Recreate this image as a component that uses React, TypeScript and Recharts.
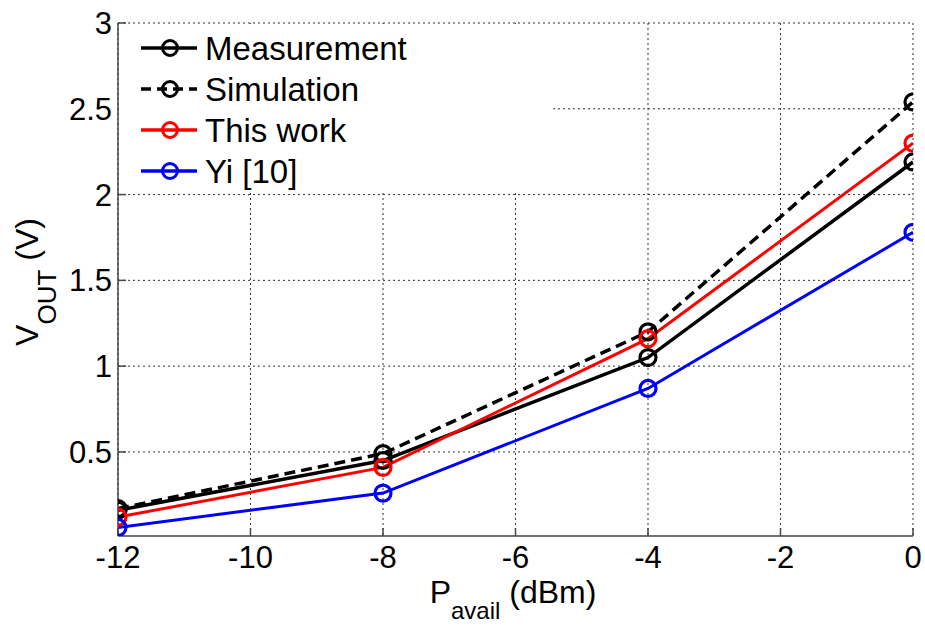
import React from 'react';
import { LineChart, Line, XAxis, YAxis, CartesianGrid } from 'recharts';

const pAvail = [-12, -8, -4, 0];
const measurement = [0.16, 0.45, 1.05, 2.19];
const simulation = [0.17, 0.49, 1.2, 2.54];
const thisWork = [0.12, 0.41, 1.16, 2.3];
const yi10 = [0.06, 0.26, 0.87, 1.78];
const xTicks = [-12, -10, -8, -6, -4, -2, 0];
const yTicks = [0.5, 1, 1.5, 2, 2.5, 3];

const data = pAvail.map((p, i) => ({
  p,
  meas: measurement[i],
  sim: simulation[i],
  work: thisWork[i],
  yi: yi10[i],
}));

const FONT = 'Liberation Sans, Arial, sans-serif';

const legendItems = [
  { name: 'Measurement', color: '#000', dash: undefined as string | undefined },
  { name: 'Simulation', color: '#000', dash: '10 6' },
  { name: 'This work', color: '#ff0000', dash: undefined },
  { name: 'Yi [10]', color: '#0000ff', dash: undefined },
];

const dot = (color: string) => ({ r: 8, stroke: color, strokeWidth: 3.2, fill: 'none' });

const YLabel = () => (
  <text x={38} y={282} transform="rotate(-90 38 282)" textAnchor="middle" fontFamily={FONT} fontSize={32} fill="#000">
    <tspan>V</tspan>
    <tspan fontSize={26} dy={18}>OUT</tspan>
    <tspan dy={-18}> (V)</tspan>
  </text>
);

const XLabel = () => (
  <text x={513} y={603} textAnchor="middle" fontFamily={FONT} fontSize={32} fill="#000">
    <tspan>P</tspan>
    <tspan fontSize={24} dy={16}>avail</tspan>
    <tspan dy={-16}> (dBm)</tspan>
  </text>
);

export default function App() {
  return (
    <div style={{ position: 'absolute', left: 0, top: 0, width: 925, height: 626, background: '#fff' }}>
      <LineChart width={925} height={626} data={data} margin={{ top: 23, right: 12, left: 38, bottom: 30 }}>
        <CartesianGrid
          stroke="#333"
          strokeDasharray="2 3"
          strokeWidth={1}
          verticalValues={xTicks}
          horizontalValues={yTicks}
        />
        <XAxis
          xAxisId={0}
          dataKey="p"
          type="number"
          domain={[-12, 0]}
          ticks={xTicks}
          height={60}
          tickSize={-8}
          tickMargin={18}
          stroke="#444"
          strokeWidth={1.5}
          tick={{ fontSize: 31, fontFamily: FONT, fill: '#000' }}
          allowDataOverflow
          label={<XLabel />}
        />
        <XAxis
          xAxisId={1}
          dataKey="p"
          type="number"
          orientation="top"
          domain={[-12, 0]}
          ticks={xTicks}
          height={0}
          tickSize={-8}
          stroke="#444"
          strokeWidth={1.5}
          tickFormatter={() => ''}
        />
        <YAxis
          yAxisId={0}
          type="number"
          domain={[0.01, 3]}
          ticks={yTicks}
          width={80}
          tickSize={-8}
          tickMargin={14}
          stroke="#444"
          strokeWidth={1.5}
          tick={{ fontSize: 31, fontFamily: FONT, fill: '#000' }}
          allowDataOverflow
          label={<YLabel />}
        />
        <YAxis
          yAxisId={1}
          orientation="right"
          type="number"
          domain={[0.01, 3]}
          ticks={yTicks}
          width={0}
          tickSize={-8}
          stroke="#444"
          strokeWidth={1.5}
          tickFormatter={() => ''}
        />
        <Line xAxisId={0} yAxisId={0} type="linear" dataKey="meas" stroke="#000" strokeWidth={3.5} dot={dot('#000')} isAnimationActive={false} />
        <Line xAxisId={0} yAxisId={0} type="linear" dataKey="sim" stroke="#000" strokeWidth={3.5} strokeDasharray="11 6" dot={{ ...dot('#000'), strokeDasharray: '' }} isAnimationActive={false} />
        <Line xAxisId={0} yAxisId={0} type="linear" dataKey="work" stroke="#ff0000" strokeWidth={3} dot={dot('#ff0000')} isAnimationActive={false} />
        <Line xAxisId={0} yAxisId={0} type="linear" dataKey="yi" stroke="#0000ff" strokeWidth={3} dot={dot('#0000ff')} isAnimationActive={false} />
      </LineChart>
      <div
        style={{
          position: 'absolute',
          left: 119,
          top: 24,
          width: 434,
          height: 166,
          background: '#fff',
        }}
      >
        {legendItems.map((it, i) => (
          <div key={it.name} style={{ position: 'absolute', left: 0, top: 4 + i * 41, height: 41, width: 434 }}>
            <svg width={84} height={41} style={{ position: 'absolute', left: 0, top: 0 }}>
              <line x1={22} y1={20} x2={78} y2={20} stroke={it.color} strokeWidth={3.5} strokeDasharray={it.dash} />
              <circle cx={51} cy={20} r={7.5} stroke={it.color} strokeWidth={3} fill="none" />
            </svg>
            <span
              style={{
                position: 'absolute',
                left: 86,
                top: 0,
                lineHeight: '41px',
                fontSize: 33,
                fontFamily: FONT,
                color: '#000',
                whiteSpace: 'nowrap',
              }}
            >
              {it.name}
            </span>
          </div>
        ))}
      </div>
    </div>
  );
}
